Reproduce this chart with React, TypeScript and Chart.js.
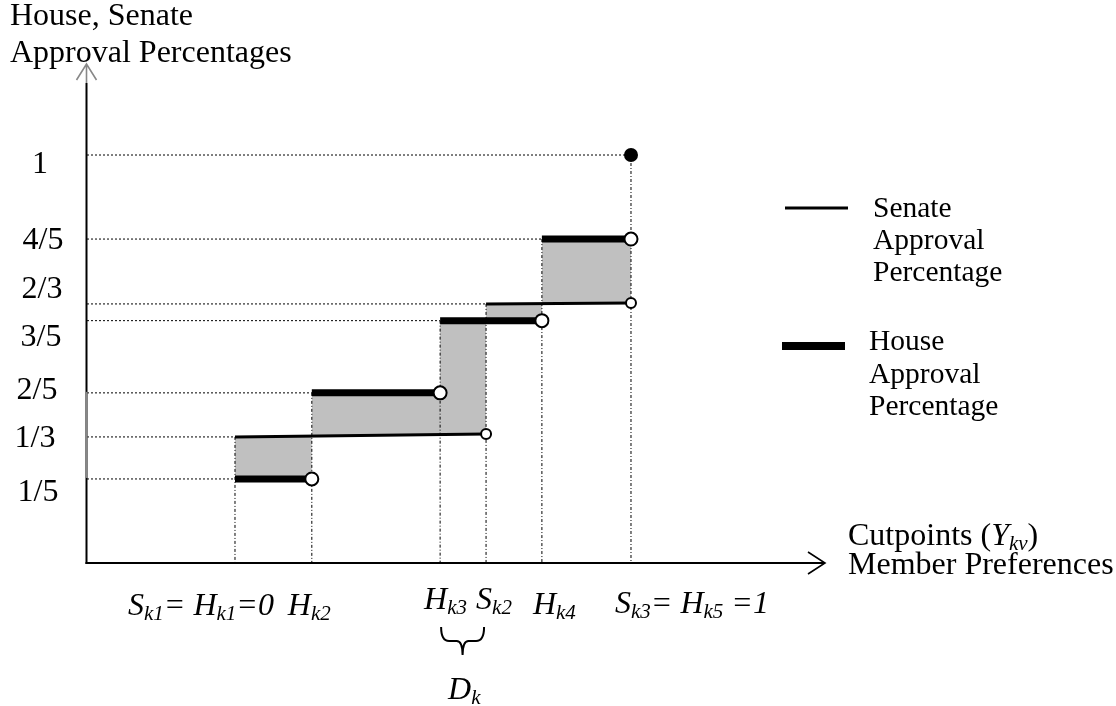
import React, { useEffect, useRef } from "react";
import { Chart, registerables } from "chart.js";

Chart.register(...registerables);

// ---- Data ----
// x: member-preference cutpoints, y: approval share (drawn positions)
const houseCutpoints = [0, 0.194, 0.518, 0.775, 1]; // H_k1 .. H_k5
const houseLevels = [0.206, 0.417, 0.594, 0.794]; // 1/5, 2/5, 3/5, 4/5
const senateCutpoints = [0, 0.634, 1]; // S_k1 .. S_k3
const senateLevelsStart = [0.309, 0.635]; // 1/3, 2/3 at left end of step
const senateLevelsEnd = [0.316, 0.637]; // 1/3, 2/3 at right end of step
const fullApproval = [{ x: 1, y: 1 }];

const yTickLabels = ["1", "4/5", "2/3", "3/5", "2/5", "1/3", "1/5"];
const yTickValues = [1, 0.794, 0.635, 0.594, 0.417, 0.309, 0.206];

const xLabelTexts = ["S_{k1}= H_{k1}=0", "H_{k2}", "H_{k3}", "S_{k2}", "H_{k4}", "S_{k3}= H_{k5} =1"];
const xLabelAt = [0, 0.194, 0.518, 0.634, 0.775, 1];

const titleLines = ["House, Senate", "Approval Percentages"];
const xAxisTitleLines = ["Cutpoints (*Y_{kv}*)", "Member Preferences"];
const senateLegend = ["Senate", "Approval", "Percentage"];
const houseLegend = ["House", "Approval", "Percentage"];
const braceLabel = "D_{k}";

// ---- Layout / style ----
const X_MIN = -0.3737;
const X_MAX = 1.4899;
const Y_MAX = 1.2206;
const GRAY = "#c0c0c0";
const FONT = '"Liberation Serif", "Times New Roman", serif';
const FS = 32;

type Part = { t: string; sub: boolean; it: boolean };
function parse(s: string, baseItalic: boolean): Part[] {
  const out: Part[] = [];
  let it = baseItalic;
  let buf = "";
  const flush = () => {
    if (buf) out.push({ t: buf, sub: false, it });
    buf = "";
  };
  for (let i = 0; i < s.length; i++) {
    const c = s[i];
    if (c === "*") {
      flush();
      it = !it;
    } else if (c === "_" && s[i + 1] === "{") {
      flush();
      const end = s.indexOf("}", i);
      out.push({ t: s.slice(i + 2, end), sub: true, it });
      i = end;
    } else buf += c;
  }
  flush();
  return out;
}

function drawRich(ctx: CanvasRenderingContext2D, s: string, x: number, y: number, size: number, italic: boolean) {
  let cx = x;
  for (const p of parse(s, italic)) {
    const fs = p.sub ? Math.round(size * 0.66) : size;
    ctx.font = `${p.it ? "italic " : ""}${fs}px ${FONT}`;
    ctx.fillText(p.t, cx, y + (p.sub ? size * 0.16 : 0));
    cx += ctx.measureText(p.t).width;
  }
}

function stepIndex(cuts: number[], v: number) {
  let i = 0;
  while (i < cuts.length - 2 && v >= cuts[i + 1]) i++;
  return i;
}

function buildDatasets() {
  const ds: any[] = [];
  // senate steps (indices 0..n-1)
  senateLevelsStart.forEach((lv, i) => {
    ds.push({
      label: "senate" + i,
      data: [
        { x: senateCutpoints[i], y: lv },
        { x: senateCutpoints[i + 1], y: senateLevelsEnd[i] },
      ],
      showLine: true,
      borderColor: "#000",
      borderWidth: 3,
      pointRadius: 0,
      fill: false,
      order: 20,
    });
  });
  // house steps
  houseLevels.forEach((lv, i) => {
    ds.push({
      label: "house" + i,
      data: [
        { x: houseCutpoints[i], y: lv },
        { x: houseCutpoints[i + 1], y: lv },
      ],
      showLine: true,
      borderColor: "#000",
      borderWidth: 7,
      borderCapStyle: "butt",
      pointRadius: 0,
      fill: false,
      order: 10,
    });
  });
  // gray gaps between house and senate steps
  const cuts = Array.from(new Set([...houseCutpoints, ...senateCutpoints])).sort((a, b) => a - b);
  for (let k = 0; k < cuts.length - 1; k++) {
    const a = cuts[k];
    const b = cuts[k + 1];
    const h = houseLevels[stepIndex(houseCutpoints, a)];
    const sIdx = stepIndex(senateCutpoints, a);
    ds.push({
      label: "gap" + k,
      data: [
        { x: a, y: h },
        { x: b, y: h },
      ],
      showLine: true,
      borderWidth: 0,
      borderColor: "rgba(0,0,0,0)",
      backgroundColor: GRAY,
      pointRadius: 0,
      fill: { target: sIdx, above: GRAY, below: GRAY },
      order: 50,
    });
  }
  // dotted guide lines: horizontal from the y axis to where each level begins
  const levelStarts: { y: number; x: number }[] = [
    ...houseLevels.map((y, i) => ({ y, x: houseCutpoints[i] })),
    ...senateLevelsStart.map((y, i) => ({ y, x: senateCutpoints[i] })),
    { y: fullApproval[0].y, x: fullApproval[0].x },
  ];
  levelStarts.forEach((p, i) => {
    ds.push({
      label: "hguide" + i,
      data: [
        { x: X_MIN, y: p.y },
        { x: p.x, y: p.y },
      ],
      showLine: true,
      borderColor: "#000",
      borderWidth: 1,
      borderDash: [2, 2],
      pointRadius: 0,
      fill: false,
      order: 40,
    });
  });
  // vertical guides from highest level at each cutpoint down to the x axis
  cuts.forEach((c, i) => {
    const tops = levelStarts.filter((p) => p.x === c).map((p) => p.y);
    const top = Math.max(...tops);
    ds.push({
      label: "vguide" + i,
      data: [
        { x: c, y: top },
        { x: c, y: 0 },
      ],
      showLine: true,
      borderColor: "#000",
      borderWidth: 1,
      borderDash: [3, 2, 1, 2],
      pointRadius: 0,
      fill: false,
      order: 40,
    });
  });
  // open circles at the (excluded) right ends of each step
  ds.push({
    label: "houseEnds",
    data: houseLevels.map((y, i) => ({ x: houseCutpoints[i + 1], y })),
    showLine: false,
    pointRadius: 6.5,
    pointBorderWidth: 2,
    pointBorderColor: "#000",
    pointBackgroundColor: "#fff",
    order: 0,
  });
  ds.push({
    label: "senateEnds",
    data: senateLevelsEnd.map((y, i) => ({ x: senateCutpoints[i + 1], y })),
    showLine: false,
    pointRadius: 5,
    pointBorderWidth: 2,
    pointBorderColor: "#000",
    pointBackgroundColor: "#fff",
    order: 0,
  });
  ds.push({
    label: "full",
    data: fullApproval,
    showLine: false,
    pointRadius: 7,
    pointBorderWidth: 0,
    pointBackgroundColor: "#000",
    pointBorderColor: "#000",
    order: 0,
  });
  return ds;
}

const decorations = {
  id: "decorations",
  afterDraw(chart: any) {
    const { ctx, scales } = chart;
    const X = (v: number) => scales.x.getPixelForValue(v);
    const Y = (v: number) => scales.y.getPixelForValue(v);
    const ox = X(X_MIN) - 0.5;
    const oy = Y(0);
    ctx.save();
    ctx.lineCap = "butt";
    // y axis
    ctx.strokeStyle = "#000";
    ctx.lineWidth = 2;
    ctx.beginPath();
    ctx.moveTo(ox, Y(Y_MAX) + 18);
    ctx.lineTo(ox, oy + 1);
    ctx.stroke();
    ctx.strokeStyle = "#888";
    ctx.beginPath();
    ctx.moveTo(ox, Y(houseLevels[1]) - 1);
    ctx.lineTo(ox, Y(houseLevels[0]) - 1);
    ctx.stroke();
    // y arrow (gray)
    const ty = Y(Y_MAX) - 1;
    ctx.lineWidth = 1.6;
    ctx.beginPath();
    ctx.moveTo(ox - 10, ty + 16);
    ctx.lineTo(ox, ty);
    ctx.lineTo(ox + 10, ty + 16);
    ctx.moveTo(ox, ty);
    ctx.lineTo(ox, ty + 19);
    ctx.stroke();
    // x axis
    const ex = X(X_MAX);
    ctx.strokeStyle = "#000";
    ctx.lineWidth = 2;
    ctx.beginPath();
    ctx.moveTo(ox - 1, oy);
    ctx.lineTo(ex - 1, oy);
    ctx.stroke();
    ctx.lineWidth = 1.6;
    ctx.beginPath();
    ctx.moveTo(ex - 17, oy - 11);
    ctx.lineTo(ex, oy);
    ctx.lineTo(ex - 17, oy + 11);
    ctx.stroke();

    ctx.fillStyle = "#000";
    ctx.textBaseline = "alphabetic";
    // titles
    ctx.textAlign = "left";
    ctx.font = `${FS}px ${FONT}`;
    ctx.fillText(titleLines[0], 10, 25);
    ctx.fillText(titleLines[1], 10, 62);
    // y tick labels (hand-placed offsets as in the drawing)
    const tickDy = [18, 10, -6, 25, 6, 10, 22];
    const tickCx = [40, 43, 42, 41, 37, 35, 38];
    ctx.textAlign = "center";
    yTickLabels.forEach((t, i) => {
      ctx.font = `${FS}px ${FONT}`;
      ctx.fillText(t, tickCx[i], Y(yTickValues[i]) + tickDy[i]);
    });
    ctx.textAlign = "left";
    // x labels (italic, with subscripts)
    const lx = [-107, -24, -16, -10, -9, -16];
    const ly = [52, 52, 46, 46, 51, 50];
    xLabelTexts.forEach((t, i) => {
      drawRich(ctx, t, X(xLabelAt[i]) + lx[i], oy + ly[i], FS, true);
    });
    // brace under H_k3 .. S_k2
    const bl = X(houseCutpoints[2]) + 1;
    const br = X(senateCutpoints[1]) - 2;
    const bm = (bl + br) / 2;
    const bt = oy + 64;
    ctx.lineWidth = 2;
    ctx.strokeStyle = "#000";
    ctx.beginPath();
    ctx.moveTo(bl, bt);
    ctx.quadraticCurveTo(bl, bt + 14, bl + 8, bt + 14);
    ctx.lineTo(bm - 6, bt + 14);
    ctx.quadraticCurveTo(bm, bt + 14, bm, bt + 28);
    ctx.moveTo(br, bt);
    ctx.quadraticCurveTo(br, bt + 14, br - 8, bt + 14);
    ctx.lineTo(bm + 6, bt + 14);
    ctx.quadraticCurveTo(bm, bt + 14, bm, bt + 28);
    ctx.stroke();
    drawRich(ctx, braceLabel, bl + 7, oy + 136, FS, true);
    // x axis title
    drawRich(ctx, xAxisTitleLines[0], ex + 23, oy - 18, FS, false);
    drawRich(ctx, xAxisTitleLines[1], ex + 23, oy + 11, FS, false);
    // legend
    ctx.lineWidth = 3;
    ctx.beginPath();
    ctx.moveTo(785, 208);
    ctx.lineTo(848, 208);
    ctx.stroke();
    ctx.lineWidth = 8;
    ctx.beginPath();
    ctx.moveTo(782, 346);
    ctx.lineTo(845, 346);
    ctx.stroke();
    ctx.font = `29.5px ${FONT}`;
    senateLegend.forEach((t, i) => ctx.fillText(t, 873, 217 + i * 32));
    houseLegend.forEach((t, i) => ctx.fillText(t, 869, 350 + i * 32.5));
    ctx.restore();
  },
};

export default function App() {
  const ref = useRef<HTMLCanvasElement>(null);
  useEffect(() => {
    const chart = new Chart(ref.current as HTMLCanvasElement, {
      type: "scatter",
      data: { datasets: buildDatasets() },
      options: {
        animation: false,
        responsive: false,
        devicePixelRatio: 1,
        events: [],
        layout: { padding: { left: 87, top: 65, right: 291, bottom: 143 } },
        scales: {
          x: { type: "linear", min: X_MIN, max: X_MAX, display: false },
          y: { type: "linear", min: 0, max: Y_MAX, display: false },
        },
        plugins: {
          legend: { display: false },
          tooltip: { enabled: false },
          title: { display: false },
        },
      } as any,
      plugins: [decorations],
    });
    return () => chart.destroy();
  }, []);
  return (
    <div style={{ position: "absolute", left: 0, top: 0, width: 1116, height: 706, background: "#fff" }}>
      <canvas ref={ref} width={1116} height={706} style={{ display: "block" }} />
    </div>
  );
}
